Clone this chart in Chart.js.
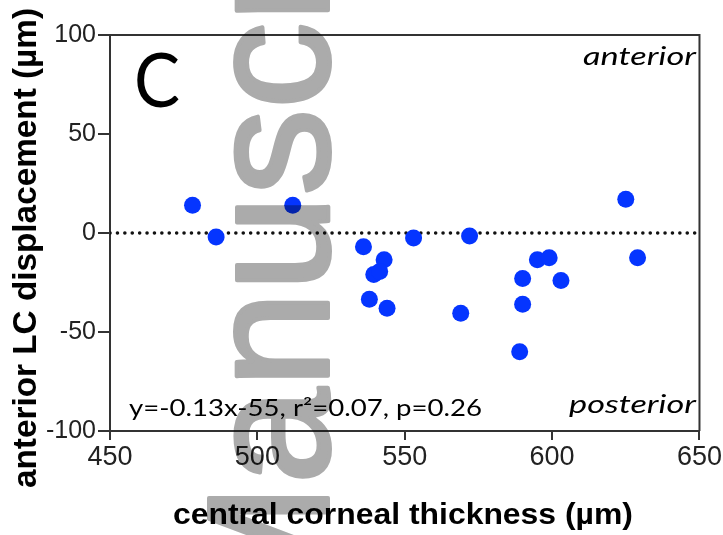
<!DOCTYPE html>
<html>
<head>
<meta charset="utf-8">
<script src="https://cdn.jsdelivr.net/npm/chart.js@4"></script>
<style>
  html, body { margin: 0; padding: 0; background: #fff; }
  #wrap { width: 723px; height: 535px; }
</style>
</head>
<body>
<div id="wrap"><canvas id="grafico" width="723" height="535"></canvas></div>
<script>
// espessura central da córnea (µm) e deslocamento da LC anterior (µm)
const thickness = [478, 486, 512, 536, 543, 539.5, 541.5, 538, 544, 553, 572, 569, 590, 590, 589, 595, 599, 603, 625, 629];
const displacement = [14, -2, 14, -7, -13.5, -21, -19.5, -33.5, -38, -2.5, -1.5, -40.5, -23, -36, -60, -13.5, -12.5, -24, 17, -12.5];
const xTicks = [450, 500, 550, 600, 650];
const yTicks = [-100, -50, 0, 50, 100];

const points = thickness.map((x, i) => ({ x, y: displacement[i] }));

// escreve o texto esticado na horizontal até a largura desejada
function fitText(c, text, font, left, baseline, width, sy) {
  c.save();
  c.font = font;
  c.textAlign = "left";
  const w = c.measureText(text).width;
  c.translate(left, baseline);
  c.scale(width / w, sy || 1);
  c.fillText(text, 0, 0);
  c.restore();
}

// textos e marca d'água
const overlay = {
  id: "overlay",
  afterDraw(chart) {
    const c = chart.ctx;
    const a = chart.chartArea;
    c.save();
    // moldura superior e direita
    c.strokeStyle = "#333";
    c.lineWidth = 2;
    c.beginPath();
    c.moveTo(a.left, a.top);
    c.lineTo(a.right, a.top);
    c.lineTo(a.right, a.bottom);
    c.stroke();

    c.fillStyle = "#000";
    c.textBaseline = "alphabetic";
    fitText(c, "C", "76px Lato", 134, 107, 46);

    fitText(c, "anterior", "italic 25px Lato", 583, 65, 113);
    fitText(c, "posterior", "italic 25px Lato", 569, 413, 127);
    fitText(c, "y=-0.13x-55, r\u00b2=0.07, p=0.26", "24px Lato", 129, 416, 353);

    // títulos dos eixos
    fitText(c, "central corneal thickness (\u00b5m)", "bold 30px 'Liberation Sans'", 173, 524, 460);
    c.save();
    c.translate(36, 488);
    c.rotate(-Math.PI / 2);
    fitText(c, "anterior LC displacement (\u00b5m)", "bold 29px 'Liberation Sans'", 0, 0, 480, 1.15);
    c.restore();

    // marca d'água "Manuscript" desenhada à parte e multiplicada por cima
    const off = document.createElement("canvas");
    off.width = chart.width;
    off.height = chart.height;
    const o = off.getContext("2d");
    o.fillStyle = "#ababab";
    o.strokeStyle = "#ababab";
    o.lineWidth = 4;
    o.lineJoin = "round";
    o.font = "173px 'Liberation Sans'";
    o.translate(328, 628);
    o.rotate(-Math.PI / 2);
    o.fillText("Manuscript", 0, 0);
    o.strokeText("Manuscript", 0, 0);
    c.globalCompositeOperation = "multiply";
    c.drawImage(off, 0, 0);
    c.restore();
  }
};

const ctx = document.getElementById("grafico").getContext("2d");

new Chart(ctx, {
  type: "scatter",
  data: {
    datasets: [
      {
        label: "zero",
        type: "line",
        data: [{ x: 450, y: 0 }, { x: 650, y: 0 }],
        borderColor: "#111",
        borderWidth: 3.5,
        borderDash: [0.1, 7.3],
        borderCapStyle: "round",
        pointRadius: 0,
        order: 2
      },
      {
        label: "CCT",
        data: points,
        backgroundColor: "#0535ff",
        borderWidth: 0,
        pointRadius: 8.5,
        order: 1
      }
    ]
  },
  options: {
    responsive: false,
    animation: false,
    layout: { padding: { top: 35, right: 21, left: 0, bottom: 0 } },
    plugins: { legend: { display: false }, tooltip: { enabled: false } },
    scales: {
      x: {
        type: "linear",
        min: 450,
        max: 650,
        afterBuildTicks: s => { s.ticks = xTicks.map(v => ({ value: v })); },
        afterFit: s => { s.height = 104; },
        border: { color: "#333", width: 2 },
        grid: { drawOnChartArea: false, tickLength: 9, color: "#333", lineWidth: 2 },
        ticks: { color: "#222", font: { family: "'Liberation Sans'", size: 27 }, padding: 1, maxRotation: 0 }
      },
      y: {
        type: "linear",
        min: -100,
        max: 100,
        afterBuildTicks: s => { s.ticks = yTicks.map(v => ({ value: v })); },
        afterFit: s => { s.width = 110; },
        border: { color: "#333", width: 2 },
        grid: { drawOnChartArea: false, tickLength: 12, color: "#333", lineWidth: 2 },
        ticks: { color: "#222", font: { family: "'Liberation Sans'", size: 25 }, padding: 2 }
      }
    }
  },
  plugins: [overlay]
});
</script>
</body>
</html>
